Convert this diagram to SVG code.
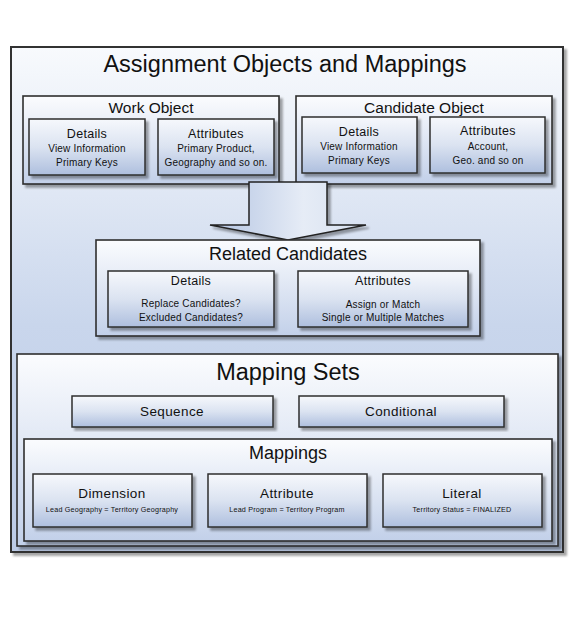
<svg xmlns="http://www.w3.org/2000/svg" width="576" height="624" viewBox="0 0 576 624">
<defs>
<linearGradient id="gOuter" x1="0" y1="0" x2="0" y2="1">
<stop offset="0" stop-color="#f8fafd"/><stop offset="0.55" stop-color="#c9d6ec"/><stop offset="1" stop-color="#bccbe6"/>
</linearGradient>
<linearGradient id="gCont" x1="0" y1="0" x2="0" y2="1">
<stop offset="0" stop-color="#fbfcfe"/><stop offset="1" stop-color="#c2d0e9"/>
</linearGradient>
<linearGradient id="gBox" x1="0" y1="0" x2="0" y2="1">
<stop offset="0" stop-color="#f6f8fc"/><stop offset="0.5" stop-color="#dbe3f1"/><stop offset="1" stop-color="#aebfde"/>
</linearGradient>
<linearGradient id="gArrow" x1="0" y1="0" x2="1" y2="0">
<stop offset="0" stop-color="#b3c4e2"/><stop offset="0.6" stop-color="#e6ecf6"/><stop offset="1" stop-color="#d6e0f0"/>
</linearGradient>
<filter id="sh" x="-5%" y="-5%" width="115%" height="120%">
<feDropShadow dx="3" dy="3" stdDeviation="1" flood-color="#000" flood-opacity="0.35"/>
</filter>
<style>
text{font-family:"Liberation Sans",Arial,sans-serif;fill:#111;text-anchor:middle}
.outer{fill:url(#gOuter);stroke:#333;stroke-width:2;filter:url(#sh)}
.cont{fill:url(#gCont);stroke:#2e2e2e;stroke-width:1.6;filter:url(#sh)}
.box{fill:url(#gBox);stroke:#2e2e2e;stroke-width:1.5;filter:url(#sh)}
.t1{font-size:23.5px}
.t2{font-size:18px}
.t3{font-size:15.5px}
.t4{font-size:12.5px;letter-spacing:0.3px}
.t5{font-size:10px;letter-spacing:0.2px}
.t6{font-size:13.5px;letter-spacing:0.4px}
.t7{font-size:7.2px;letter-spacing:0.2px}
</style>
</defs>
<g id="assignment-objects">
<rect class="outer" x="11" y="47" width="552" height="505"/>
<text class="t1" x="285" y="72">Assignment Objects and Mappings</text>
</g>
<g id="work-object">
<rect class="cont" x="23" y="96" width="256" height="88"/>
<text class="t3" x="151" y="113">Work Object</text>
</g>
<g id="work-details">
<rect class="box" x="29" y="119" width="116" height="56"/>
<text class="t4" x="87" y="138">Details</text>
<text class="t5" x="87" y="152">View Information</text>
<text class="t5" x="87" y="166">Primary Keys</text>
</g>
<g id="work-attributes">
<rect class="box" x="158" y="119" width="116" height="56"/>
<text class="t4" x="216" y="138">Attributes</text>
<text class="t5" x="216" y="152">Primary Product,</text>
<text class="t5" x="216" y="166">Geography and so on.</text>
</g>
<g id="candidate-object">
<rect class="cont" x="296" y="96" width="256" height="88"/>
<text class="t3" x="424" y="113">Candidate Object</text>
</g>
<g id="candidate-details">
<rect class="box" x="302" y="117" width="115" height="56"/>
<text class="t4" x="359" y="136">Details</text>
<text class="t5" x="359" y="150">View Information</text>
<text class="t5" x="359" y="164">Primary Keys</text>
</g>
<g id="candidate-attributes">
<rect class="box" x="430" y="117" width="115" height="56"/>
<text class="t4" x="488" y="135">Attributes</text>
<text class="t5" x="488" y="150">Account,</text>
<text class="t5" x="488" y="164">Geo. and so on</text>
</g>
<g id="connectors">
<path d="M249,182 H327 V225 H366 L288,240 L210,225 H249 Z" fill="url(#gArrow)" stroke="#222" stroke-width="1.5" filter="url(#sh)"/>
</g>
<g id="related-candidates">
<rect class="cont" x="96" y="240" width="384" height="96"/>
<text class="t2" x="288" y="260">Related Candidates</text>
</g>
<g id="related-details">
<rect class="box" x="108" y="271" width="166" height="56"/>
<text class="t4" x="191" y="285">Details</text>
<text class="t5" x="191" y="307">Replace Candidates?</text>
<text class="t5" x="191" y="321">Excluded Candidates?</text>
</g>
<g id="related-attributes">
<rect class="box" x="298" y="271" width="170" height="56"/>
<text class="t4" x="383" y="285">Attributes</text>
<text class="t5" x="383" y="308">Assign or Match</text>
<text class="t5" x="383" y="321">Single or Multiple Matches</text>
</g>
<g id="mapping-sets">
<rect class="cont" x="17" y="354" width="541" height="192"/>
<text class="t1" x="288" y="380">Mapping Sets</text>
</g>
<g id="sequence">
<rect class="box" x="72" y="396" width="201" height="31"/>
<text class="t6" x="172" y="416">Sequence</text>
</g>
<g id="conditional">
<rect class="box" x="299" y="396" width="205" height="31"/>
<text class="t6" x="401" y="416">Conditional</text>
</g>
<g id="mappings">
<rect class="cont" x="24" y="439" width="528" height="102"/>
<text class="t2" x="288" y="459">Mappings</text>
</g>
<g id="dimension">
<rect class="box" x="33" y="474" width="159" height="53"/>
<text class="t6" x="112" y="498">Dimension</text>
<text class="t7" x="112" y="512">Lead Geography = Territory Geography</text>
</g>
<g id="attribute">
<rect class="box" x="208" y="474" width="159" height="53"/>
<text class="t6" x="287" y="498">Attribute</text>
<text class="t7" x="287" y="512">Lead Program = Territory Program</text>
</g>
<g id="literal">
<rect class="box" x="383" y="474" width="159" height="53"/>
<text class="t6" x="462" y="498">Literal</text>
<text class="t7" x="462" y="512">Territory Status = FINALIZED</text>
</g>
</svg>
